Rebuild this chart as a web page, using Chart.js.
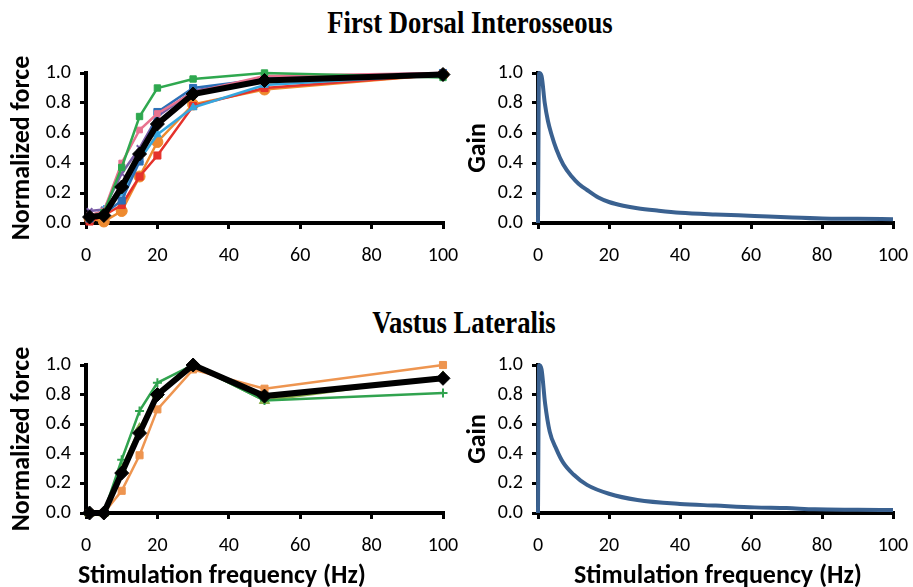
<!DOCTYPE html>
<html>
<head>
<meta charset="utf-8">
<script src="https://cdn.jsdelivr.net/npm/chart.js@4.4.1/dist/chart.umd.min.js"></script>
<style>
  html, body { margin: 0; padding: 0; background: #fff; }
  body { width: 913px; height: 587px; position: relative; overflow: hidden; }
  .panel { position: absolute; }
  .heading {
    position: absolute; width: 600px; margin-left: -300px; text-align: center;
    font-family: "Liberation Serif", "Times New Roman", serif;
    font-weight: bold; font-size: 31px; line-height: 1; color: #000;
    transform: scaleX(0.86); white-space: nowrap;
  }
  .xtitle {
    position: absolute; width: 400px; margin-left: -200px; text-align: center;
    font-family: Carlito, "Liberation Sans Narrow", "Liberation Sans", sans-serif;
    font-weight: bold; font-size: 26px; line-height: 1; color: #000; white-space: nowrap;
  }
</style>
</head>
<body>
<div class="heading" style="top:7px;left:470px">First Dorsal Interosseous</div>
<div class="heading" style="top:307px;left:464px">Vastus Lateralis</div>

<div class="panel" style="left:0;top:40px;width:460px;height:260px"><canvas id="fdiForce"></canvas></div>
<div class="panel" style="left:460px;top:40px;width:453px;height:260px"><canvas id="fdiGain"></canvas></div>
<div class="panel" style="left:0;top:332px;width:460px;height:255px"><canvas id="vlForce"></canvas></div>
<div class="panel" style="left:460px;top:332px;width:453px;height:255px"><canvas id="vlGain"></canvas></div>

<div class="xtitle" style="top:561px;left:222px">Stimulation frequency (Hz)</div>
<div class="xtitle" style="top:561px;left:718px">Stimulation frequency (Hz)</div>

<script>
// Stimulation frequencies (Hz) used in the force-frequency protocol
const stimFreq = [1, 5, 10, 15, 20, 30, 50, 100];

// First dorsal interosseous: normalized force per subject, plus the group mean
const fdiGreen     = [0.04, 0.07, 0.37, 0.71, 0.90, 0.96, 1.00, 0.97];
const fdiPink      = [0.05, 0.08, 0.40, 0.62, 0.73, 0.87, 0.98, 1.00];
const fdiBlue      = [0.03, 0.06, 0.15, 0.41, 0.74, 0.90, 0.96, 1.00];
const fdiLightBlue = [0.04, 0.09, 0.20, 0.42, 0.59, 0.77, 0.92, 0.99];
const fdiRed       = [0.01, 0.05, 0.12, 0.31, 0.45, 0.78, 0.90, 0.99];
const fdiOrange    = [0.03, 0.01, 0.08, 0.31, 0.54, 0.79, 0.89, 0.99];
const fdiPurple    = [0.08, 0.09, 0.33, 0.50, 0.71, 0.88, 0.97, 1.00];
const fdiMean      = [0.04, 0.05, 0.24, 0.46, 0.66, 0.86, 0.95, 0.99];

// Vastus lateralis: normalized force per subject, plus the group mean
const vlOrange = [0.00, 0.00, 0.15, 0.39, 0.70, 0.97, 0.84, 1.00];
const vlGreen  = [0.00, 0.00, 0.36, 0.69, 0.88, 1.00, 0.76, 0.81];
const vlOlive  = [0.00, 0.00, 0.30, 0.57, 0.80, 1.00, 0.76, 0.92];
const vlMean   = [0.00, 0.00, 0.27, 0.54, 0.80, 1.00, 0.79, 0.91];

// Gain (slope of the mean force-frequency relation) versus frequency
const fdiGainFreq = [0, 0.3, 1, 1.9, 2.8, 3.8, 5.2, 7.1, 9.5, 11.5, 13.8, 17, 20, 24, 28, 34, 40, 50, 61, 70, 80, 90, 100];
const fdiGainVals = [0, 1.00, 0.98, 0.80, 0.68, 0.59, 0.49, 0.39, 0.31, 0.26, 0.22, 0.17, 0.14, 0.115, 0.098, 0.082, 0.069, 0.057, 0.047, 0.038, 0.030, 0.028, 0.025];
const vlGainFreq  = [0, 0.3, 1, 2, 3.3, 5.2, 7.1, 10, 13.8, 20, 28, 40, 50, 61, 70, 78, 90, 100];
const vlGainVals  = [0, 1.00, 0.97, 0.74, 0.55, 0.43, 0.34, 0.26, 0.19, 0.13, 0.088, 0.061, 0.050, 0.038, 0.033, 0.025, 0.022, 0.020];

// Axis tick labels
const freqTicks = [0, 20, 40, 60, 80, 100];
const forceTicks = [0.0, 0.2, 0.4, 0.6, 0.8, 1.0];

const sansStack = 'Carlito, "Liberation Sans Narrow", "Liberation Sans", sans-serif';
const tickFont = { family: sansStack, size: 20 };
const yTitleFont = { family: sansStack, size: 26, weight: 'bold', lineHeight: 1 };

function points(xs, ys) { return xs.map((x, i) => ({ x: x, y: ys[i] })); }

function series(values, color, shape, radius, order) {
  return {
    data: points(stimFreq, values), borderColor: color, backgroundColor: color,
    borderWidth: 2.5, pointStyle: shape, pointRadius: radius,
    pointBorderWidth: shape === 'cross' || shape === 'crossRot' ? 2 : 1,
    tension: 0, clip: false, order: order
  };
}
function meanSeries(values) {
  return {
    data: points(stimFreq, values), borderColor: '#000', backgroundColor: '#000',
    borderWidth: 6, pointStyle: 'rectRot', pointRadius: 7, pointBorderWidth: 1,
    tension: 0, clip: false, order: 0
  };
}
function gainSeries(xs, ys) {
  return {
    data: points(xs, ys), borderColor: '#3A6190', borderWidth: 4,
    pointRadius: 0, cubicInterpolationMode: 'monotone', clip: false
  };
}

function axisCommon() {
  return {
    grid: { drawOnChartArea: false, drawTicks: true, tickLength: 6, lineWidth: 3, color: '#000' },
    border: { display: true, width: 4, color: '#000' }
  };
}

function makeChart(id, datasets, o) {
  return new Chart(document.getElementById(id), {
    type: 'line',
    data: { datasets: datasets },
    options: {
      responsive: true, maintainAspectRatio: false, animation: false,
      layout: { padding: { top: o.padTop, right: o.padRight, left: 0, bottom: 0 } },
      plugins: { legend: { display: false }, tooltip: { enabled: false } },
      scales: {
        x: Object.assign(axisCommon(), {
          type: 'linear', min: freqTicks[0], max: freqTicks[freqTicks.length - 1],
          afterBuildTicks: s => { s.ticks = freqTicks.map(v => ({ value: v })); },
          ticks: { font: tickFont, color: '#000', padding: 15, maxRotation: 0, autoSkip: false },
          afterFit: s => { s.height = o.xHeight; s.paddingLeft = 0; s.paddingRight = 0; }
        }),
        y: Object.assign(axisCommon(), {
          min: forceTicks[0], max: forceTicks[forceTicks.length - 1],
          afterBuildTicks: s => { s.ticks = forceTicks.map(v => ({ value: v })); },
          ticks: { font: tickFont, color: '#000', padding: 9, callback: v => Number(v).toFixed(1) },
          title: { display: true, text: o.yTitle, font: yTitleFont, color: '#000', padding: { top: o.yTitlePad, bottom: 0 } },
          afterFit: s => { s.width = o.yWidth; s.paddingTop = 0; s.paddingBottom = 0; }
        })
      }
    }
  });
}

makeChart('fdiForce', [
  meanSeries(fdiMean),
  series(fdiGreen, '#2FA84F', 'rect', 4.5, 1),
  series(fdiPink, '#E8728F', 'rect', 4, 2),
  series(fdiBlue, '#2B6FB6', 'rect', 5, 3),
  series(fdiLightBlue, '#35A7DF', 'triangle', 4.5, 4),
  series(fdiRed, '#E5322B', 'rect', 5, 5),
  series(fdiOrange, '#EE8A2F', 'circle', 5.5, 6),
  series(fdiPurple, '#7B5EA7', 'crossRot', 4, 7)
], { padTop: 33, padRight: 17, yWidth: 86, xHeight: 77, yTitle: 'Normalized force', yTitlePad: 9 });

makeChart('fdiGain', [gainSeries(fdiGainFreq, fdiGainVals)],
  { padTop: 33, padRight: 20, yWidth: 78, xHeight: 77, yTitle: 'Gain', yTitlePad: 5 });

makeChart('vlForce', [
  meanSeries(vlMean),
  series(vlOrange, '#EE9550', 'rect', 5, 1),
  series(vlGreen, '#31A34F', 'cross', 4.5, 2),
  series(vlOlive, '#8DAF4C', 'triangle', 6, 3)
], { padTop: 33, padRight: 17, yWidth: 86, xHeight: 74, yTitle: 'Normalized force', yTitlePad: 9 });

makeChart('vlGain', [gainSeries(vlGainFreq, vlGainVals)],
  { padTop: 33, padRight: 20, yWidth: 78, xHeight: 74, yTitle: 'Gain', yTitlePad: 5 });
</script>
</body>
</html>
